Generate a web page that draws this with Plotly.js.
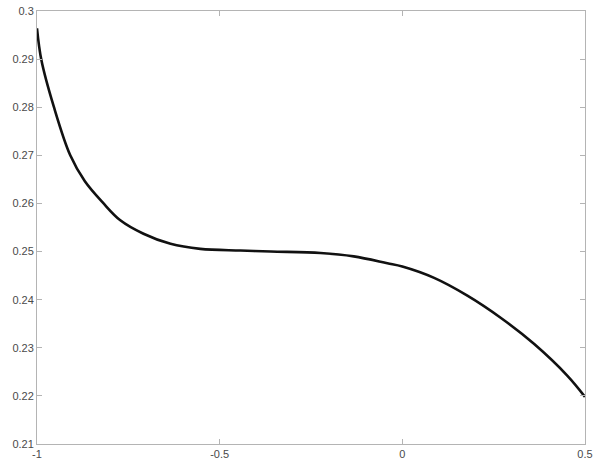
<!DOCTYPE html>
<html>
<head>
<meta charset="utf-8">
<script src="https://cdn.plot.ly/plotly-3.0.1.min.js"></script>
<style>
  html, body { margin: 0; padding: 0; background: #fff; }
  #chart { width: 598px; height: 462px; }
</style>
</head>
<body>
<div id="chart"></div>
<script>
// values
const xs = [-1, -0.988, -0.954, -0.909, -0.869, -0.819, -0.772, -0.7085, -0.6345,
    -0.553, -0.443, -0.36, -0.224, -0.133, -0.041, 0, 0.087, 0.178, 0.27,
    0.361, 0.452, 0.5];
const ys = [0.2964, 0.2898, 0.2801, 0.2700, 0.2646, 0.2601, 0.2565, 0.2537, 0.2516,
    0.25056, 0.25021, 0.2500, 0.2497, 0.2490, 0.24756, 0.24688, 0.24452, 0.24083, 0.23619,
    0.23077, 0.22417, 0.2198];

const xTicks = [-1, -0.5, 0, 0.5],
    xTickText = ['-1', '-0.5', '0', '0.5'];
const yTicks = [0.21, 0.22, 0.23, 0.24, 0.25, 0.26, 0.27, 0.28, 0.29, 0.3],
    yTickText = ['0.21', '0.22', '0.23', '0.24', '0.25', '0.26', '0.27', '0.28', '0.29', '0.3'];

const axisCommon = {
    showgrid: false,
    zeroline: false,
    showline: true,
    linecolor: '#b4b4b4',
    linewidth: 1,
    mirror: 'ticks',
    ticks: 'inside',
    ticklen: 5,
    tickcolor: '#b4b4b4',
    tickfont: { family: 'Liberation Sans, Arial, sans-serif', size: 11, color: '#4a4a4a' },
};

const curve = {
    type: 'scatter',
    mode: 'lines',
    x: xs,
    y: ys,
    line: { color: '#111', width: 2.6, shape: 'spline', smoothing: 1 },
    hoverinfo: 'skip',
};

const layout = {
    width: 598,
    height: 462,
    margin: { l: 37, r: 13, t: 11, b: 18 },
    paper_bgcolor: '#fff',
    plot_bgcolor: '#fff',
    showlegend: false,
    xaxis: Object.assign({}, axisCommon, {
        range: [-1, 0.5],
        tickvals: xTicks,
        ticktext: xTickText,
    }),
    yaxis: Object.assign({}, axisCommon, {
        range: [0.21, 0.3],
        tickvals: yTicks,
        ticktext: yTickText,
    }),
};

Plotly.newPlot('chart', [curve], layout, { staticPlot: true });
</script>
</body>
</html>
